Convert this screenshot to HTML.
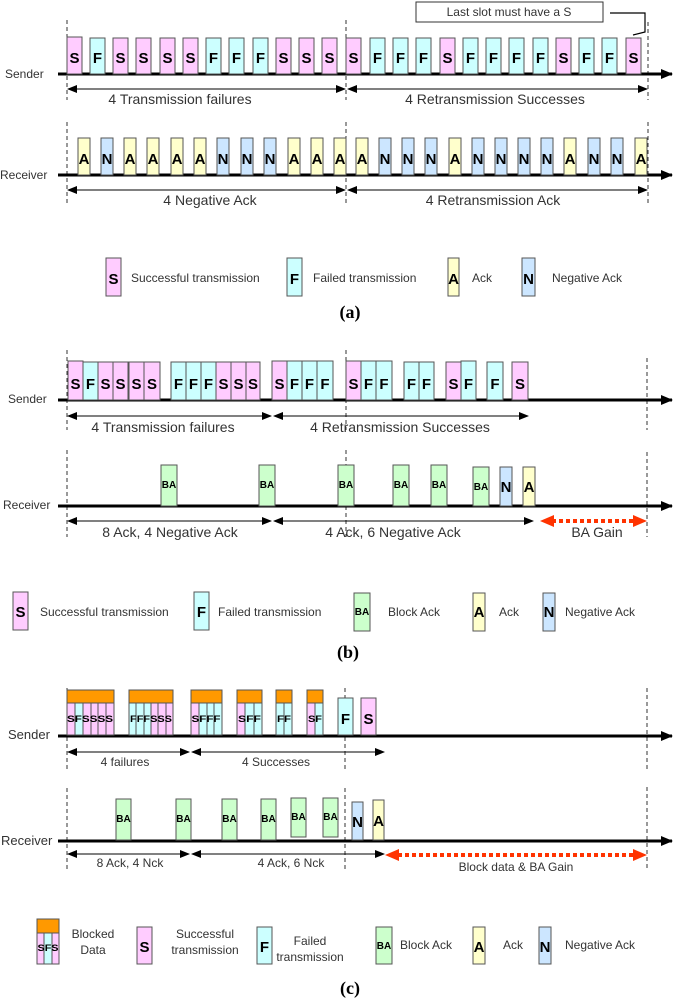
<!DOCTYPE html>
<html><head><meta charset="utf-8"><style>
html,body{margin:0;padding:0;background:#fff;}
svg{display:block;font-family:"Liberation Sans",sans-serif;}
.s{fill:#ffccff;stroke:#555;stroke-width:1}
.f{fill:#ccffff;stroke:#555;stroke-width:1}
.a{fill:#ffffcc;stroke:#555;stroke-width:1}
.n{fill:#cce6ff;stroke:#555;stroke-width:1}
.b{fill:#ccffcc;stroke:#555;stroke-width:1}
.o{fill:#ff9900;stroke:#555;stroke-width:1}
.L{font-weight:bold;font-size:15px;text-anchor:middle;fill:#000}
.Lb{font-weight:bold;font-size:10px;text-anchor:middle;fill:#000}
.Ls{font-weight:bold;font-size:9px;text-anchor:middle;fill:#000}
.t{font-size:14px;fill:#333;text-anchor:middle}
.tl{font-size:12px;fill:#333}
.ts{font-size:12px;fill:#333;text-anchor:middle}
.ax{stroke:#000;stroke-width:3}
.dl{stroke:#333;stroke-width:1;stroke-dasharray:4 3}
.ar{stroke:#000;stroke-width:1}
.cap{font-family:"Liberation Serif",serif;font-weight:bold;font-size:18px;text-anchor:middle}
.red{stroke:#ff3300;stroke-width:4;stroke-dasharray:4 3}
</style></head><body>
<svg width="681" height="1000" viewBox="0 0 681 1000" xmlns="http://www.w3.org/2000/svg">
<defs>
<marker id="ah" markerWidth="10" markerHeight="8" refX="9" refY="4" orient="auto" markerUnits="userSpaceOnUse"><path d="M0,0 L10,4 L0,8 z" fill="#000"/></marker>
<marker id="ahs" markerWidth="10" markerHeight="8" refX="1" refY="4" orient="auto" markerUnits="userSpaceOnUse"><path d="M10,0 L0,4 L10,8 z" fill="#000"/></marker>
<marker id="big" markerWidth="12" markerHeight="10" refX="11" refY="5" orient="auto" markerUnits="userSpaceOnUse"><path d="M0,0 L12,5 L0,10 z" fill="#000"/></marker>
</defs>

<!-- ===== (a) ===== -->
<line class="dl" x1="67" y1="20" x2="67" y2="100"/><line class="dl" x1="67" y1="122" x2="67" y2="203"/>
<line class="dl" x1="346" y1="20" x2="346" y2="100"/><line class="dl" x1="346" y1="122" x2="346" y2="203"/>
<line class="dl" x1="648" y1="22" x2="648" y2="100"/><line class="dl" x1="648" y1="122" x2="648" y2="203"/>
<rect x="416" y="2" width="187" height="20" fill="#fff" stroke="#333"/>
<text x="509" y="16" class="tl" text-anchor="middle">Last slot must have a S</text>
<polyline points="610,13 645,13 645,32 633,35" fill="none" stroke="#000" stroke-width="1.2"/>
<text x="5" y="78" class="tl">Sender</text>
<line class="ax" x1="58" y1="74" x2="672" y2="74" marker-end="url(#big)"/>
<g>
<rect class="s" x="67" y="37" width="15" height="37"/><text class="L" x="74.5" y="63">S</text>
<rect class="f" x="90" y="38" width="15" height="36"/><text class="L" x="97.5" y="63">F</text>
<rect class="s" x="113" y="38" width="15" height="36"/><text class="L" x="120.5" y="63">S</text>
<rect class="s" x="136" y="38" width="15" height="36"/><text class="L" x="143.5" y="63">S</text>
<rect class="s" x="160" y="38" width="15" height="36"/><text class="L" x="167.5" y="63">S</text>
<rect class="s" x="183" y="38" width="15" height="36"/><text class="L" x="190.5" y="63">S</text>
<rect class="f" x="206" y="38" width="15" height="36"/><text class="L" x="213.5" y="63">F</text>
<rect class="f" x="229" y="38" width="15" height="36"/><text class="L" x="236.5" y="63">F</text>
<rect class="f" x="253" y="38" width="15" height="36"/><text class="L" x="260.5" y="63">F</text>
<rect class="s" x="276" y="38" width="15" height="36"/><text class="L" x="283.5" y="63">S</text>
<rect class="s" x="299" y="38" width="15" height="36"/><text class="L" x="306.5" y="63">S</text>
<rect class="s" x="322" y="38" width="15" height="36"/><text class="L" x="329.5" y="63">S</text>
<rect class="s" x="346" y="38" width="15" height="36"/><text class="L" x="353.5" y="63">S</text>
<rect class="f" x="370" y="38" width="15" height="36"/><text class="L" x="377.5" y="63">F</text>
<rect class="f" x="393" y="38" width="15" height="36"/><text class="L" x="400.5" y="63">F</text>
<rect class="f" x="416" y="38" width="15" height="36"/><text class="L" x="423.5" y="63">F</text>
<rect class="s" x="440" y="38" width="15" height="36"/><text class="L" x="447.5" y="63">S</text>
<rect class="f" x="463" y="38" width="15" height="36"/><text class="L" x="470.5" y="63">F</text>
<rect class="f" x="486" y="38" width="15" height="36"/><text class="L" x="493.5" y="63">F</text>
<rect class="f" x="509" y="38" width="15" height="36"/><text class="L" x="516.5" y="63">F</text>
<rect class="f" x="533" y="38" width="15" height="36"/><text class="L" x="540.5" y="63">F</text>
<rect class="s" x="556" y="38" width="15" height="36"/><text class="L" x="563.5" y="63">S</text>
<rect class="f" x="579" y="38" width="15" height="36"/><text class="L" x="586.5" y="63">F</text>
<rect class="f" x="602" y="38" width="15" height="36"/><text class="L" x="609.5" y="63">F</text>
<rect class="s" x="626" y="38" width="15" height="36"/><text class="L" x="633.5" y="63">S</text>
</g>
<line class="ar" x1="68" y1="89" x2="345" y2="89" marker-start="url(#ahs)" marker-end="url(#ah)"/>
<line class="ar" x1="348" y1="89" x2="647" y2="89" marker-start="url(#ahs)" marker-end="url(#ah)"/>
<text class="t" x="180" y="104">4 Transmission failures</text>
<text class="t" x="495" y="104">4 Retransmission Successes</text>

<text x="0" y="179" class="tl">Receiver</text>
<line class="ax" x1="58" y1="175" x2="672" y2="175" marker-end="url(#big)"/>
<g>
<rect class="a" x="78" y="138" width="12" height="37"/><text class="L" x="84" y="164">A</text>
<rect class="n" x="101" y="138" width="12" height="37"/><text class="L" x="107" y="164">N</text>
<rect class="a" x="124" y="138" width="12" height="37"/><text class="L" x="130" y="164">A</text>
<rect class="a" x="147" y="138" width="12" height="37"/><text class="L" x="153" y="164">A</text>
<rect class="a" x="171" y="138" width="12" height="37"/><text class="L" x="177" y="164">A</text>
<rect class="a" x="194" y="138" width="12" height="37"/><text class="L" x="200" y="164">A</text>
<rect class="n" x="217" y="138" width="12" height="37"/><text class="L" x="223" y="164">N</text>
<rect class="n" x="241" y="138" width="12" height="37"/><text class="L" x="247" y="164">N</text>
<rect class="n" x="264" y="138" width="12" height="37"/><text class="L" x="270" y="164">N</text>
<rect class="a" x="288" y="138" width="12" height="37"/><text class="L" x="294" y="164">A</text>
<rect class="a" x="311" y="138" width="12" height="37"/><text class="L" x="317" y="164">A</text>
<rect class="a" x="334" y="138" width="12" height="37"/><text class="L" x="340" y="164">A</text>
<rect class="a" x="356" y="138" width="12" height="37"/><text class="L" x="362" y="164">A</text>
<rect class="n" x="379" y="138" width="12" height="37"/><text class="L" x="385" y="164">N</text>
<rect class="n" x="402" y="138" width="12" height="37"/><text class="L" x="408" y="164">N</text>
<rect class="n" x="425" y="138" width="12" height="37"/><text class="L" x="431" y="164">N</text>
<rect class="a" x="449" y="138" width="12" height="37"/><text class="L" x="455" y="164">A</text>
<rect class="n" x="472" y="138" width="12" height="37"/><text class="L" x="478" y="164">N</text>
<rect class="n" x="495" y="138" width="12" height="37"/><text class="L" x="501" y="164">N</text>
<rect class="n" x="518" y="138" width="12" height="37"/><text class="L" x="524" y="164">N</text>
<rect class="n" x="541" y="138" width="12" height="37"/><text class="L" x="547" y="164">N</text>
<rect class="a" x="564" y="138" width="12" height="37"/><text class="L" x="570" y="164">A</text>
<rect class="n" x="588" y="138" width="12" height="37"/><text class="L" x="594" y="164">N</text>
<rect class="n" x="611" y="138" width="12" height="37"/><text class="L" x="617" y="164">N</text>
<rect class="a" x="635" y="138" width="12" height="37"/><text class="L" x="641" y="164">A</text>
</g>
<line class="ar" x1="68" y1="190" x2="345" y2="190" marker-start="url(#ahs)" marker-end="url(#ah)"/>
<line class="ar" x1="348" y1="190" x2="647" y2="190" marker-start="url(#ahs)" marker-end="url(#ah)"/>
<text class="t" x="210" y="205">4 Negative Ack</text>
<text class="t" x="493" y="205">4 Retransmission Ack</text>

<rect class="s" x="106" y="258" width="15" height="38"/><text class="L" x="113.5" y="284">S</text>
<text class="tl" x="131" y="282">Successful transmission</text>
<rect class="f" x="287" y="258" width="15" height="38"/><text class="L" x="294.5" y="284">F</text>
<text class="tl" x="313" y="282">Failed transmission</text>
<rect class="a" x="448" y="258" width="11" height="38"/><text class="L" x="453.5" y="284">A</text>
<text class="tl" x="472" y="282">Ack</text>
<rect class="n" x="522" y="258" width="13" height="38"/><text class="L" x="528.5" y="284">N</text>
<text class="tl" x="552" y="282">Negative Ack</text>
<text class="cap" x="350" y="318">(a)</text>

<!-- ===== (b) ===== -->
<line class="dl" x1="67" y1="350" x2="67" y2="430"/><line class="dl" x1="67" y1="450" x2="67" y2="537"/>
<line class="dl" x1="346" y1="350" x2="346" y2="430"/><line class="dl" x1="346" y1="450" x2="346" y2="537"/>
<line class="dl" x1="647" y1="358" x2="647" y2="430"/><line class="dl" x1="647" y1="452" x2="647" y2="537"/>
<text x="8" y="403" class="tl">Sender</text>
<line class="ax" x1="58" y1="400" x2="672" y2="400" marker-end="url(#big)"/>
<g>
<rect class="s" x="68" y="361" width="15" height="39"/><text class="L" x="75.5" y="389">S</text>
<rect class="f" x="83" y="362" width="15" height="38"/><text class="L" x="90.5" y="389">F</text>
<rect class="s" x="98" y="362" width="15" height="38"/><text class="L" x="105.5" y="389">S</text>
<rect class="s" x="113" y="362" width="15" height="38"/><text class="L" x="120.5" y="389">S</text>
<rect class="s" x="129" y="362" width="15" height="38"/><text class="L" x="136.5" y="389">S</text>
<rect class="s" x="144" y="362" width="16" height="38"/><text class="L" x="152" y="389">S</text>
<rect class="f" x="171" y="362" width="15" height="38"/><text class="L" x="178.5" y="389">F</text>
<rect class="f" x="186" y="362" width="15" height="38"/><text class="L" x="193.5" y="389">F</text>
<rect class="f" x="201" y="362" width="15" height="38"/><text class="L" x="208.5" y="389">F</text>
<rect class="s" x="216" y="362" width="15" height="38"/><text class="L" x="223.5" y="389">S</text>
<rect class="s" x="231" y="362" width="15" height="38"/><text class="L" x="238.5" y="389">S</text>
<rect class="s" x="246" y="362" width="14" height="38"/><text class="L" x="253" y="389">S</text>
<rect class="s" x="272" y="361" width="15" height="39"/><text class="L" x="279.5" y="389">S</text>
<rect class="f" x="287" y="361" width="15" height="39"/><text class="L" x="294.5" y="389">F</text>
<rect class="f" x="302" y="361" width="15" height="39"/><text class="L" x="309.5" y="389">F</text>
<rect class="f" x="317" y="361" width="16" height="39"/><text class="L" x="325" y="389">F</text>
<rect class="s" x="346" y="361" width="15" height="39"/><text class="L" x="353.5" y="389">S</text>
<rect class="f" x="361" y="361" width="15" height="39"/><text class="L" x="368.5" y="389">F</text>
<rect class="f" x="376" y="361" width="16" height="39"/><text class="L" x="384" y="389">F</text>
<rect class="f" x="404" y="362" width="15" height="38"/><text class="L" x="411.5" y="389">F</text>
<rect class="f" x="419" y="362" width="15" height="38"/><text class="L" x="426.5" y="389">F</text>
<rect class="s" x="446" y="362" width="15" height="38"/><text class="L" x="453.5" y="389">S</text>
<rect class="f" x="461" y="361" width="15" height="39"/><text class="L" x="468.5" y="389">F</text>
<rect class="f" x="487" y="362" width="16" height="38"/><text class="L" x="495" y="389">F</text>
<rect class="s" x="512" y="362" width="16" height="38"/><text class="L" x="520" y="389">S</text>
</g>
<line class="ar" x1="68" y1="416" x2="271" y2="416" marker-start="url(#ahs)" marker-end="url(#ah)"/>
<line class="ar" x1="274" y1="416" x2="528" y2="416" marker-start="url(#ahs)" marker-end="url(#ah)"/>
<text class="t" x="163" y="432">4 Transmission failures</text>
<text class="t" x="400" y="432">4 Retransmission Successes</text>

<text x="3" y="509" class="tl">Receiver</text>
<line class="ax" x1="58" y1="506" x2="672" y2="506" marker-end="url(#big)"/>
<g>
<rect class="b" x="161" y="465" width="16" height="41"/><text class="Lb" x="169" y="488">BA</text>
<rect class="b" x="259" y="465" width="16" height="41"/><text class="Lb" x="267" y="488">BA</text>
<rect class="b" x="338" y="465" width="16" height="41"/><text class="Lb" x="346" y="488">BA</text>
<rect class="b" x="393" y="465" width="16" height="41"/><text class="Lb" x="401" y="488">BA</text>
<rect class="b" x="431" y="465" width="16" height="41"/><text class="Lb" x="439" y="488">BA</text>
<rect class="b" x="473" y="467" width="16" height="39"/><text class="Lb" x="481" y="490">BA</text>
<rect class="n" x="500" y="467" width="12" height="39"/><text class="L" x="506" y="492">N</text>
<rect class="a" x="523" y="467" width="12" height="39"/><text class="L" x="529" y="492">A</text>
</g>
<line class="ar" x1="68" y1="521" x2="271" y2="521" marker-start="url(#ahs)" marker-end="url(#ah)"/>
<line class="ar" x1="274" y1="521" x2="533" y2="521" marker-start="url(#ahs)" marker-end="url(#ah)"/>
<text class="t" x="170" y="537">8 Ack, 4 Negative Ack</text>
<text class="t" x="393" y="537">4 Ack, 6 Negative Ack</text>
<line class="red" x1="552" y1="521" x2="634" y2="521"/>
<polygon points="540,521 554,515 554,527" fill="#ff3300"/>
<polygon points="647,521 633,515 633,527" fill="#ff3300"/>
<text class="t" x="597" y="537">BA Gain</text>

<rect class="s" x="13" y="592" width="15" height="38"/><text class="L" x="20.5" y="617">S</text>
<text class="tl" x="40" y="616">Successful transmission</text>
<rect class="f" x="194" y="592" width="15" height="38"/><text class="L" x="201.5" y="617">F</text>
<text class="tl" x="218" y="616">Failed transmission</text>
<rect class="b" x="354" y="593" width="16" height="38"/><text class="Lb" x="362" y="615">BA</text>
<text class="tl" x="388" y="616">Block Ack</text>
<rect class="a" x="473" y="593" width="12" height="38"/><text class="L" x="479" y="617">A</text>
<text class="tl" x="499" y="616">Ack</text>
<rect class="n" x="543" y="593" width="12" height="38"/><text class="L" x="549" y="617">N</text>
<text class="tl" x="565" y="616">Negative Ack</text>
<text class="cap" x="348" y="658">(b)</text>

<!-- ===== (c) ===== -->
<line class="dl" x1="67" y1="688" x2="67" y2="770"/><line class="dl" x1="67" y1="788" x2="67" y2="870"/>
<line class="dl" x1="345" y1="688" x2="345" y2="770"/><line class="dl" x1="345" y1="788" x2="345" y2="870"/>
<line class="dl" x1="647" y1="688" x2="647" y2="770"/><line class="dl" x1="647" y1="787" x2="647" y2="870"/>
<text x="8" y="739" class="tl" style="font-size:13px">Sender</text>
<line class="ax" x1="58" y1="736" x2="672" y2="736" marker-end="url(#big)"/>
<g>
<rect class="o" x="67" y="690" width="47" height="13"/>
<rect class="s" x="67" y="703" width="8" height="32"/><rect class="f" x="75" y="703" width="8" height="32"/><rect class="s" x="83" y="703" width="8" height="32"/><rect class="s" x="91" y="703" width="7" height="32"/><rect class="s" x="98" y="703" width="8" height="32"/><rect class="s" x="106" y="703" width="8" height="32"/>
<text class="Ls" x="90" y="722" textLength="46" lengthAdjust="spacingAndGlyphs">SFSSSS</text>
<rect class="o" x="129" y="690" width="44" height="13"/>
<rect class="f" x="129" y="703" width="7" height="32"/><rect class="f" x="136" y="703" width="8" height="32"/><rect class="f" x="144" y="703" width="7" height="32"/><rect class="s" x="151" y="703" width="7" height="32"/><rect class="s" x="158" y="703" width="8" height="32"/><rect class="s" x="166" y="703" width="7" height="32"/>
<text class="Ls" x="151" y="722" textLength="42" lengthAdjust="spacingAndGlyphs">FFFSSS</text>
<rect class="o" x="191" y="690" width="31" height="13"/>
<rect class="s" x="191" y="703" width="8" height="32"/><rect class="f" x="199" y="703" width="8" height="32"/><rect class="f" x="207" y="703" width="7" height="32"/><rect class="f" x="214" y="703" width="8" height="32"/>
<text class="Ls" x="206" y="722" textLength="29" lengthAdjust="spacingAndGlyphs">SFFF</text>
<rect class="o" x="237" y="690" width="25" height="13"/>
<rect class="s" x="237" y="703" width="8" height="32"/><rect class="f" x="245" y="703" width="9" height="32"/><rect class="f" x="254" y="703" width="8" height="32"/>
<text class="Ls" x="249.5" y="722" textLength="23" lengthAdjust="spacingAndGlyphs">SFF</text>
<rect class="o" x="276" y="690" width="16" height="13"/>
<rect class="f" x="276" y="703" width="8" height="32"/><rect class="f" x="284" y="703" width="8" height="32"/>
<text class="Ls" x="284" y="722" textLength="14" lengthAdjust="spacingAndGlyphs">FF</text>
<rect class="o" x="307" y="690" width="16" height="13"/>
<rect class="s" x="307" y="703" width="8" height="32"/><rect class="f" x="315" y="703" width="8" height="32"/>
<text class="Ls" x="315" y="722" textLength="14" lengthAdjust="spacingAndGlyphs">SF</text>
<rect class="f" x="338" y="698" width="15" height="37"/><text class="L" x="345.5" y="724">F</text>
<rect class="s" x="361" y="698" width="15" height="37"/><text class="L" x="368.5" y="724">S</text>
</g>
<line class="ar" x1="68" y1="752" x2="189" y2="752" marker-start="url(#ahs)" marker-end="url(#ah)"/>
<line class="ar" x1="192" y1="752" x2="384" y2="752" marker-start="url(#ahs)" marker-end="url(#ah)"/>
<text class="ts" x="125" y="766">4 failures</text>
<text class="ts" x="276" y="766">4 Successes</text>

<text x="1" y="845" class="tl" style="font-size:13px">Receiver</text>
<line class="ax" x1="58" y1="841" x2="672" y2="841" marker-end="url(#big)"/>
<g>
<rect class="b" x="116" y="799" width="15" height="41"/><text class="Lb" x="123.5" y="822">BA</text>
<rect class="b" x="176" y="799" width="15" height="41"/><text class="Lb" x="183.5" y="822">BA</text>
<rect class="b" x="222" y="799" width="15" height="41"/><text class="Lb" x="229.5" y="822">BA</text>
<rect class="b" x="261" y="799" width="15" height="41"/><text class="Lb" x="268.5" y="822">BA</text>
<rect class="b" x="291" y="798" width="15" height="39"/><text class="Lb" x="298.5" y="820">BA</text>
<rect class="b" x="323" y="798" width="15" height="39"/><text class="Lb" x="330.5" y="820">BA</text>
<rect class="n" x="352" y="802" width="11" height="38"/><text class="L" x="357.5" y="827">N</text>
<rect class="a" x="373" y="800" width="11" height="40"/><text class="L" x="378.5" y="826">A</text>
</g>
<line class="ar" x1="68" y1="854" x2="189" y2="854" marker-start="url(#ahs)" marker-end="url(#ah)"/>
<line class="ar" x1="192" y1="854" x2="384" y2="854" marker-start="url(#ahs)" marker-end="url(#ah)"/>
<text class="ts" x="130" y="867">8 Ack, 4 Nck</text>
<text class="ts" x="291" y="867">4 Ack, 6 Nck</text>
<line class="red" x1="398" y1="855" x2="634" y2="855"/>
<polygon points="385,855 399,849 399,861" fill="#ff3300"/>
<polygon points="647,855 633,849 633,861" fill="#ff3300"/>
<text class="ts" x="516" y="871">Block data &amp; BA Gain</text>

<rect class="o" x="37" y="919" width="22" height="14"/>
<rect class="s" x="37" y="933" width="7" height="31"/><rect class="f" x="44" y="933" width="8" height="31"/><rect class="s" x="52" y="933" width="7" height="31"/>
<text class="Ls" x="48" y="951" textLength="21" lengthAdjust="spacingAndGlyphs">SFS</text>
<text class="tl" x="93" y="938" text-anchor="middle">Blocked</text>
<text class="tl" x="93" y="954" text-anchor="middle">Data</text>
<rect class="s" x="137" y="927" width="15" height="37"/><text class="L" x="144.5" y="952">S</text>
<text class="tl" x="205" y="938" text-anchor="middle">Successful</text>
<text class="tl" x="205" y="954" text-anchor="middle">transmission</text>
<rect class="f" x="257" y="927" width="15" height="37"/><text class="L" x="264.5" y="952">F</text>
<text class="tl" x="310" y="945" text-anchor="middle">Failed</text>
<text class="tl" x="310" y="961" text-anchor="middle">transmission</text>
<rect class="b" x="376" y="927" width="16" height="37"/><text class="Lb" x="384" y="949">BA</text>
<text class="tl" x="400" y="949">Block Ack</text>
<rect class="a" x="473" y="927" width="12" height="37"/><text class="L" x="479" y="952">A</text>
<text class="tl" x="503" y="949">Ack</text>
<rect class="n" x="539" y="927" width="12" height="37"/><text class="L" x="545" y="952">N</text>
<text class="tl" x="565" y="949">Negative Ack</text>
<text class="cap" x="350" y="994">(c)</text>
</svg>
</body></html>
